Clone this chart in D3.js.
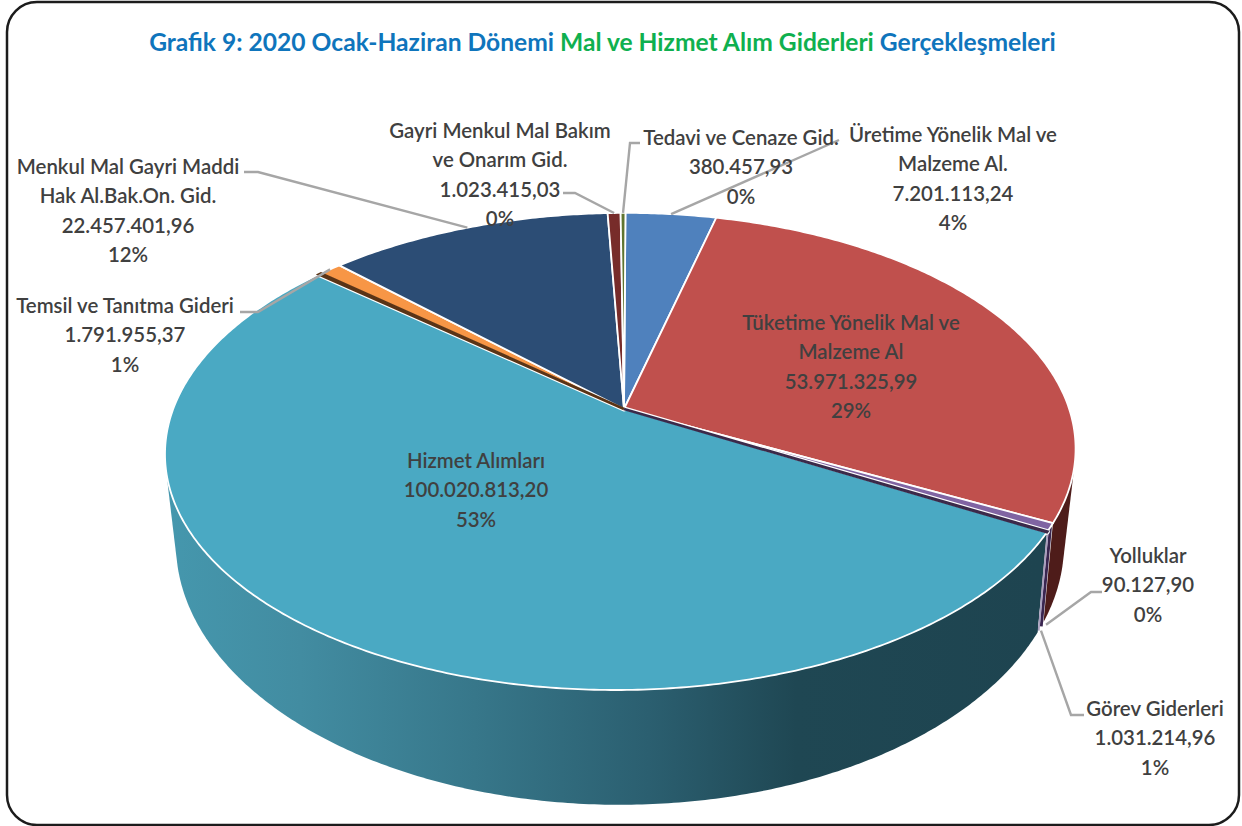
<!DOCTYPE html>
<html><head><meta charset="utf-8">
<script src="https://cdn.jsdelivr.net/npm/d3@7"></script>
<style>html,body{margin:0;padding:0;background:#fff}svg{display:block}</style>
</head><body><svg id="c" width="1242" height="826"></svg>
<script>
// ----- data -----
const categories = ["Üretime Yönelik Mal ve Malzeme Al.","Tüketime Yönelik Mal ve Malzeme Al","Görev Giderleri","Yolluklar","Hizmet Alımları","(etiketsiz)","Temsil ve Tanıtma Gideri","Menkul Mal Gayri Maddi Hak Al.Bak.On. Gid.","Gayri Menkul Mal Bakım ve Onarım Gid.","Tedavi ve Cenaze Gid."];
const values = [7201113.24,53971325.99,1031214.96,90127.90,100020813.20,200000,1791955.37,22457401.96,1023415.03,380457.93];
const colors = ["#4f81bd","#c0504d","#8064a2","#3b2a4a","#4aa9c3","#5a3416","#f79646","#2c4d75","#772c2a","#5f7530"];
const labelTexts = [
 ["Üretime Yönelik Mal ve","Malzeme Al.","7.201.113,24","4%"],
 ["Tüketime Yönelik Mal ve","Malzeme Al","53.971.325,99","29%"],
 ["Görev Giderleri","1.031.214,96","1%"],
 ["Yolluklar","90.127,90","0%"],
 ["Hizmet Alımları","100.020.813,20","53%"],
 [],
 ["Temsil ve Tanıtma Gideri","1.791.955,37","1%"],
 ["Menkul Mal Gayri Maddi","Hak Al.Bak.On. Gid.","22.457.401,96","12%"],
 ["Gayri Menkul Mal Bakım","ve Onarım Gid.","1.023.415,03","0%"],
 ["Tedavi ve Cenaze Gid.","380.457,93","0%"]
];
const labelPos = [[953,134],[851,322],[1155,708],[1148,555],[476,460],null,[125,305],[128,166],[500,130],[741,137]];
const leaderElbows = [[[839,140]],null,[[1084,715],[1071,715]],[[1102,592],[1091,592]],null,null,[[240,312],[258,312]],[[244,172],[258,172]],[[563,193],[575,193]],[[640,143],[630,143]]];
const leaderNudge = [[0,0],null,[0,4],[8,-7],null,null,[0,0],[0,0],[0,0],[0,0]];
const titleParts = [["Grafik 9: 2020 Ocak-Haziran Dönemi ","#0f75bc"],["Mal ve Hizmet Alım Giderleri ","#0fb04f"],["Gerçekleşmeleri","#0f75bc"]];

// ----- perspective pie geometry -----
const k = 0.178;
const apex = [624,409];
const top3d = {x0:621.2,y0:409,rx:448,ry:231,s:5};
const bot3d = {x0:620,y0:497,rx:437,ry:253,s:0};
const proj = (g,t)=>{const u=Math.sin(t),v=-Math.cos(t),w=1-k*v;return [g.x0+g.rx*u/w-g.s*v/w,g.y0+g.ry*v/w];};
const arcPts=(g,a,b)=>{const n=Math.max(2,Math.ceil((b-a)/0.01));return d3.range(n+1).map(i=>proj(g,a+(b-a)*i/n));};
const line=d3.line();
const svg=d3.select("#c");
const defs=svg.append("defs");
const grad=defs.append("linearGradient").attr("id","hiz").attr("gradientUnits","userSpaceOnUse")
 .attr("x1",170).attr("x2",1040).attr("y1",0).attr("y2",0);
[[0,"#4597ad"],[0.15,"#428ca1"],[0.35,"#37778a"],[0.55,"#2b5f70"],[0.72,"#1f4753"],[1,"#1e4450"]].forEach(s=>grad.append("stop").attr("offset",s[0]).attr("stop-color",s[1]));

svg.append("rect").attr("x",7).attr("y",2).attr("width",1232).attr("height",823).attr("rx",30).attr("ry",30)
 .attr("fill","#fff").attr("stroke","#1c1c1c").attr("stroke-width",2.5);

svg.append("text").attr("x",602.5).attr("y",51).attr("text-anchor","middle")
 .attr("font-family","Lato").attr("font-weight",700).attr("font-size",24.6)
 .selectAll("tspan").data(titleParts).join("tspan").attr("fill",d=>d[1]).attr("xml:space","preserve").text(d=>d[0]);

const arcs=d3.pie().sort(null).value(d=>d)(values);
const [redA,gorevA,yolA,hizA]=[arcs[1],arcs[2],arcs[3],arcs[4]];

// side walls
const sides=svg.append("g");
const wall=(a,b,fill)=>{
  const hull=d3.polygonHull(arcPts(top3d,a,b).concat(arcPts(bot3d,a,b)));
  sides.append("path").attr("d",line(hull)+"Z").attr("fill",fill);
};
wall(1.25,redA.endAngle,"#4e1c1a");
wall(hizA.startAngle,5.0,"url(#hiz)");
// narrow slices' walls: white gap with a dark and a pale strip
const gapA=gorevA.startAngle, gapB=hizA.startAngle;
const gapPts=[proj(top3d,gapA),proj(top3d,gapB),proj(bot3d,gapB),proj(bot3d,gapA)];
sides.append("path").attr("d",line(gapPts)+"Z").attr("fill","#fff");
[[0.42,"#3a2650",3],[0.86,"#a99fbe",1.8]].forEach(s=>{
  const t=gapA+(gapB-gapA)*s[0],p=proj(top3d,t),q=proj(bot3d,t);
  sides.append("line").attr("x1",p[0]).attr("y1",p[1]).attr("x2",q[0]).attr("y2",q[1]).attr("stroke",s[1]).attr("stroke-width",s[2]);
});

// top faces
const faces=svg.append("g");
const facePath=d=>line([apex].concat(arcPts(top3d,d.startAngle,d.endAngle)))+"Z";
arcs.forEach((d,i)=>{
  const thin=(d.endAngle-d.startAngle)<0.01;
  faces.append("path").attr("d",facePath(d)).attr("fill",colors[i])
    .attr("stroke","#fff").attr("stroke-width",thin?5:1.8).attr("stroke-linejoin","round");
});
arcs.forEach((d,i)=>{
  if((d.endAngle-d.startAngle)<0.01)
    faces.append("path").attr("d",facePath(d)).attr("fill",colors[i]).attr("stroke",colors[i]).attr("stroke-width",2.6);
});

// leaders
const lead=svg.append("g").attr("fill","none").attr("stroke","#a6a6a6").attr("stroke-width",2.4);
arcs.forEach((d,i)=>{
  if(!leaderElbows[i])return;
  const t=(d.startAngle+d.endAngle)/2;
  const p=(t>1.5&&t<4.5)?proj(bot3d,t):proj(top3d,t);
  const anchor=[p[0]+leaderNudge[i][0],p[1]+leaderNudge[i][1]];
  lead.append("path").attr("d",line(leaderElbows[i].concat([anchor])));
});

// labels
const lh=29.4;
const lab=svg.append("g").attr("font-family","Lato").attr("font-weight",600).attr("font-size",20.4)
  .attr("fill","#404040").attr("text-anchor","middle").attr("dominant-baseline","central");
labelTexts.forEach((ls,i)=>{
  if(!labelPos[i])return;
  ls.forEach((s,j)=>lab.append("text").attr("x",labelPos[i][0]).attr("y",labelPos[i][1]+j*lh).text(s));
});
</script></body></html>
